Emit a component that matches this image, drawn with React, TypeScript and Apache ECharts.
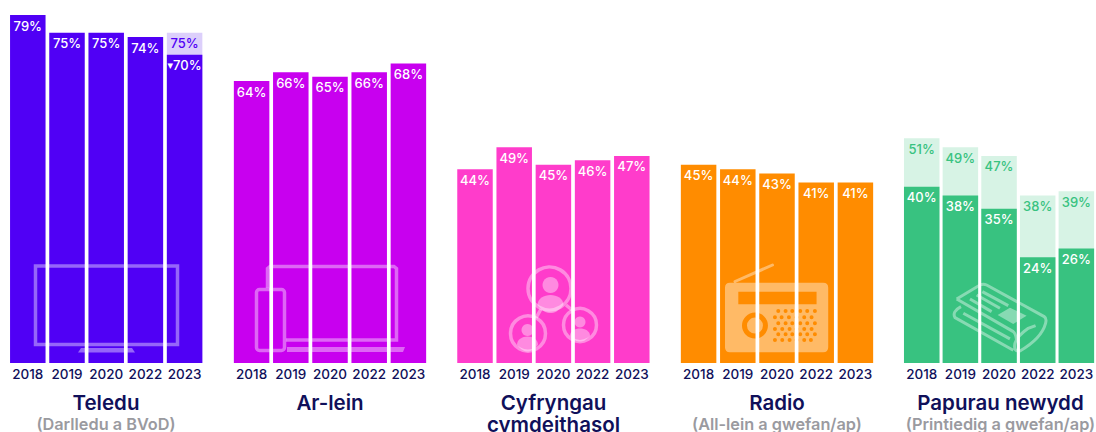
import React, { useEffect, useRef } from "react";
import * as echarts from "echarts";

const years = ["2018", "2019", "2020", "2022", "2023"];

const tvValues = [79, 75, 75, 74, 70];
const tvCompare = [null, null, null, null, 75];
const onlineValues = [64, 66, 65, 66, 68];
const socialValues = [44, 49, 45, 46, 47];
const radioValues = [45, 44, 43, 41, 41];
const paperValues = [40, 38, 35, 24, 26];
const paperCompare = [51, 49, 47, 38, 39];

const FONT = "Inter";
const NAVY = "#10105a";
const GREY = "#9a9a9f";
const ICON = "rgba(255,255,255,0.4)";

const panels = [
  { left: 8.2, color: "#5000F5", light: "#DCCFFB", lightText: "#5000F5", values: tvValues, compare: tvCompare, marked: [4] },
  { left: 232, color: "#C800EF", light: "", lightText: "", values: onlineValues, compare: null, marked: [] },
  { left: 455.4, color: "#FF3CCB", light: "", lightText: "", values: socialValues, compare: null, marked: [] },
  { left: 679, color: "#FF8C00", light: "", lightText: "", values: radioValues, compare: null, marked: [] },
  { left: 902.4, color: "#38C280", light: "#D7F3E5", lightText: "#38C280", values: paperValues, compare: paperCompare, marked: [] },
];

const circlePath = (cx: number, cy: number, r: number, sweep: number) =>
  `M${cx - r} ${cy}A${r} ${r} 0 1 ${sweep} ${cx + r} ${cy}A${r} ${r} 0 1 ${sweep} ${cx - r} ${cy}Z`;

// Radio icon, drawn in 3x units with its cut-outs as reverse-wound holes
const radioDotRows = [
  { y: 153, xs: [190, 212, 232, 256, 277, 300] },
  { y: 172, xs: [180, 200, 222, 245, 268, 290] },
  { y: 190, xs: [190, 212, 232, 256, 277, 300] },
  { y: 207, xs: [180, 202, 224, 245, 268, 290] },
  { y: 223, xs: [190, 212, 232, 256, 277, 300] },
  { y: 240, xs: [180, 202, 224, 245, 268, 288] },
];
const radioPath =
  "M45 68L325 68Q340 68 340 83L340 262Q340 277 325 277L45 277Q30 277 30 262L30 83Q30 68 45 68Z" +
  "M70 95L70 133L305 133L305 95Z" +
  circlePath(120, 197, 39, 0) +
  circlePath(120, 197, 24, 1) +
  radioDotRows.map((row) => row.xs.map((x) => circlePath(x, row.y, 6, 0)).join("")).join("");

const paperStroke =
  "M35 72L105 30Q115 25 125 30L298 125Q306 130 302 145Q290 190 225 228Q205 232 210 205Q215 185 250 160L272 152" +
  "M35 72L205 170Q212 175 215 195" +
  "M48 95Q20 110 30 128L205 226" +
  "M55 115L195 192" +
  "M75 72L140 110" +
  "M95 60L165 100" +
  "M112 50L190 92";
const paperFill = "M158 120L195 98L245 122L205 147Z";

const bodyPath = "M-1 0.1C-1 -0.6 -0.5 -1 0 -1C0.5 -1 1 -0.6 1 0.1C0.6 0.8 0.3 1 0 1C-0.3 1 -0.6 0.8 -1 0.1Z";
const socialLinks = "M541 309L536 318M566 305L572 310";

echarts.graphic.registerShape("radioIcon", echarts.graphic.extendPath(radioPath as any, {} as any) as any);
echarts.graphic.registerShape("paperStroke", echarts.graphic.extendPath(paperStroke as any, {} as any) as any);
echarts.graphic.registerShape("paperFill", echarts.graphic.extendPath(paperFill as any, {} as any) as any);
echarts.graphic.registerShape("personBody", echarts.graphic.extendPath(bodyPath as any, {} as any) as any);
echarts.graphic.registerShape("socialLinks", echarts.graphic.extendPath(socialLinks as any, {} as any) as any);

const line = { fill: "none", stroke: ICON, lineWidth: 3.5 };
const solid = { fill: ICON, stroke: "none" };

const icons: any[] = [
  // TV
  { type: "rect", shape: { x: 35.5, y: 266, width: 142, height: 78.5 }, style: line },
  { type: "polygon", shape: { points: [[81, 348], [132, 348], [135, 352.5], [78, 352.5]] }, style: solid },
  // Laptop and phone
  { type: "polyline", shape: { points: [[267.5, 288], [267.5, 268.5], [270, 266.5], [394, 266.5], [396.5, 268.5], [396.5, 340], [286, 340]] }, style: line },
  { type: "polygon", shape: { points: [[287, 347], [405, 347], [403, 352], [287, 352]] }, style: solid },
  { type: "rect", shape: { x: 256.5, y: 289.5, width: 28, height: 61, r: 3 }, style: line },
  // Social
  { type: "circle", shape: { cx: 549.5, cy: 288.5, r: 21.5 }, style: line },
  { type: "circle", shape: { cx: 528, cy: 333.5, r: 17.5 }, style: line },
  { type: "circle", shape: { cx: 580, cy: 325, r: 16.5 }, style: line },
  { type: "socialLinks", x: 0, y: 0, style: line },
  { type: "circle", shape: { cx: 550.5, cy: 285, r: 8 }, style: solid },
  { type: "circle", shape: { cx: 527.5, cy: 330, r: 6 }, style: solid },
  { type: "circle", shape: { cx: 580, cy: 322, r: 5.5 }, style: solid },
  { type: "personBody", x: 550.5, y: 304, scaleX: 13, scaleY: 9, style: solid },
  { type: "personBody", x: 527.5, y: 344, scaleX: 10.5, scaleY: 7.5, style: solid },
  { type: "personBody", x: 580, y: 335, scaleX: 10, scaleY: 6.5, style: solid },
  // Radio
  { type: "radioIcon", x: 715, y: 260, scaleX: 1 / 3, scaleY: 1 / 3, style: solid },
  { type: "line", shape: { x1: 735, y1: 281.5, x2: 772.5, y2: 265 }, style: { stroke: ICON, lineWidth: 3, lineCap: "round" } },
  // Newspaper
  { type: "paperStroke", x: 945, y: 275, scaleX: 1 / 3, scaleY: 1 / 3, style: { fill: "none", stroke: ICON, lineWidth: 9 } },
  { type: "paperFill", x: 945, y: 275, scaleX: 1 / 3, scaleY: 1 / 3, style: solid },
];

const captions = [
  { text: "Teledu", x: 106, y: 402, size: 20.5, color: NAVY },
  { text: "(Darlledu a BVoD)", x: 106, y: 423.5, size: 16.3, color: GREY },
  { text: "Ar-lein", x: 330, y: 402, size: 20.5, color: NAVY },
  { text: "Cyfryngau", x: 553.5, y: 402, size: 20.5, color: NAVY },
  { text: "cymdeithasol", x: 553.5, y: 424.5, size: 20.5, color: NAVY },
  { text: "Radio", x: 777, y: 402, size: 20.5, color: NAVY },
  { text: "(All-lein a gwefan/ap)", x: 777, y: 423.5, size: 16.3, color: GREY },
  { text: "Papurau newydd", x: 1000.5, y: 402, size: 20.5, color: NAVY },
  { text: "(Printiedig a gwefan/ap)", x: 1000.5, y: 423.5, size: 16.3, color: GREY },
];

function buildOption() {
  const grid = panels.map((p) => ({ left: p.left, top: 10.6, width: 196, height: 352.4, containLabel: false }));
  const xAxis = panels.map((_, i) => ({
    type: "category",
    gridIndex: i,
    data: years,
    axisLine: { show: false },
    axisTick: { show: false },
    axisLabel: { color: NAVY, fontFamily: FONT, fontSize: 13.5, fontWeight: 500, margin: 4, interval: 0 },
  }));
  const yAxis = panels.map((_, i) => ({ type: "value", gridIndex: i, min: 0, max: 80, show: false }));
  const labelBase = { show: true, position: "insideTop", distance: 4, fontFamily: FONT, fontSize: 13, fontWeight: 500 };
  const series: any[] = [];
  panels.forEach((p, i) => {
    if (p.compare) {
      series.push({
        type: "bar",
        xAxisIndex: i,
        yAxisIndex: i,
        data: p.compare,
        barWidth: 35.5,
        barGap: "-100%",
        itemStyle: { color: p.light },
        label: { ...labelBase, color: p.lightText, formatter: "{c}%" },
      });
    }
    series.push({
      type: "bar",
      xAxisIndex: i,
      yAxisIndex: i,
      data: p.values,
      barWidth: 35.5,
      barGap: "-100%",
      itemStyle: { color: p.color },
      label: {
        ...labelBase,
        color: "#fff",
        formatter: (v: any) => (p.marked.includes(v.dataIndex) ? `{m|▾}${v.value}%` : `${v.value}%`),
        rich: { m: { fontSize: 11, color: "#fff", fontFamily: "DejaVu Sans" } },
      },
    });
  });
  const graphic = [
    ...icons.map((el) => ({ ...el, z: 10, silent: true })),
    ...captions.map((c) => ({
      type: "text",
      x: c.x,
      y: c.y,
      z: 10,
      silent: true,
      style: {
        text: c.text,
        fontFamily: FONT,
        fontSize: c.size,
        fontWeight: 600,
        fill: c.color,
        align: "center",
        verticalAlign: "middle",
      },
    })),
  ];
  return { animation: false, grid, xAxis, yAxis, series, graphic };
}

export default function App() {
  const ref = useRef<HTMLDivElement>(null);
  useEffect(() => {
    document.body.style.margin = "0";
    const chart = echarts.init(ref.current!, undefined, { renderer: "svg" });
    chart.setOption(buildOption() as any);
    return () => chart.dispose();
  }, []);
  return <div ref={ref} style={{ width: 1096, height: 432, overflow: "hidden", background: "#fff" }} />;
}
